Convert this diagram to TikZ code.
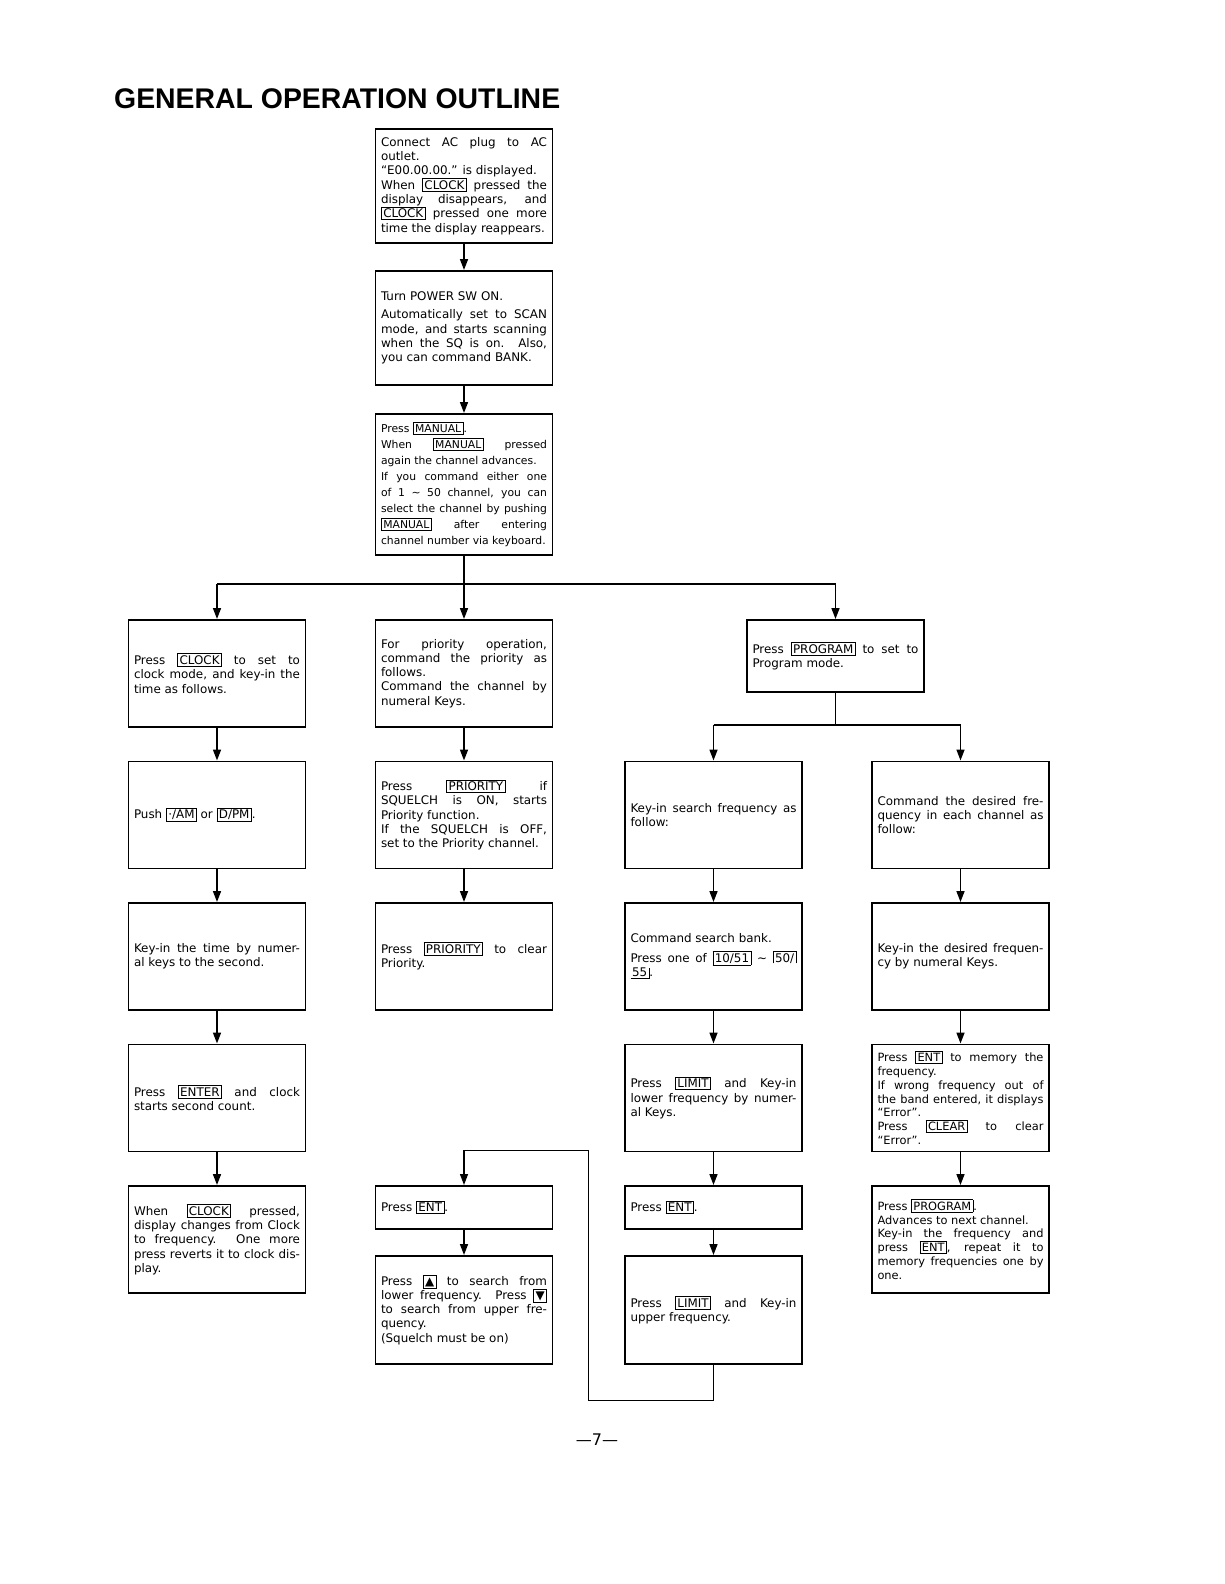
\documentclass[tikz,border=0pt]{standalone}
\usepackage{fontspec}
\setmainfont{DejaVu Sans}
\newfontfamily\titlefont{Liberation Sans}
\usetikzlibrary{positioning,arrows.meta}

\setlength{\fboxsep}{1.5pt}
\setlength{\fboxrule}{0.8pt}
% key on the front panel
\newcommand{\keycap}[1]{\fbox{#1}}
% key label broken over two lines
\newcommand{\keyhead}[1]{\hbox{\vrule width\fboxrule\vbox{\hrule height\fboxrule\kern\fboxsep\hbox{\kern\fboxsep#1\kern\fboxsep}}\vrule width\fboxrule}}
\newcommand{\keytail}[1]{\hbox{\vtop{\hbox{\kern\fboxsep#1\kern\fboxsep}\kern\fboxsep\hrule height\fboxrule}\vrule width\fboxrule}}
\newcommand{\bodysize}{\fontsize{11.9}{14.3}\selectfont\tolerance=10000\hyphenpenalty=10000}
\newcommand{\smallsize}{\fontsize{11.4}{13.8}\selectfont\tolerance=10000\hyphenpenalty=10000}
\newcommand{\manualsize}{\fontsize{10.8}{16}\selectfont\tolerance=10000\hyphenpenalty=10000}

\begin{document}
\begin{tikzpicture}[
    x=1pt, y=1pt,
    box/.style={
        rectangle,
        draw=black,
        line width=1.8pt,
        align=justify,
        text width=166pt,
        inner xsep=5.5pt,
        inner ysep=4pt,
        minimum height=107pt,
        font=\bodysize
    },
    arrow/.style={-{Triangle[length=11pt,width=8pt]}, line width=1.6pt},
    wire/.style={line width=1.6pt}
]
\useasboundingbox (0,0) rectangle (1224,-1584);

\node[anchor=base west, inner sep=0pt, font=\titlefont\bfseries\fontsize{28.4}{34}\selectfont] (title) at (114,-109) {GENERAL OPERATION OUTLINE};

% main column
\node[box, anchor=north, minimum height=114pt] (plug) at (464,-128) {Connect AC plug to AC\linebreak outlet.\\
``E00.00.00.'' is displayed.\\
When \keycap{CLOCK} pressed the\linebreak display disappears, and\linebreak \keycap{CLOCK} pressed one more\linebreak time the display reappears.};
\node[box, below=26.2pt of plug, minimum height=114pt] (power) {Turn POWER SW ON.\\[4pt]
Automatically set to SCAN\linebreak mode, and starts scanning\linebreak when the SQ is on. Also,\linebreak you can command BANK.};
\node[box, below=27.2pt of power, minimum height=141pt, font=\manualsize] (manual) {Press \keycap{MANUAL}.\\
When \keycap{MANUAL} pressed\linebreak again the channel advances.\\
If you command either one\linebreak of 1 ∼ 50 channel, you can\linebreak select the channel by pushing\linebreak \keycap{MANUAL} after entering\linebreak channel number via keyboard.};

\coordinate (bus) at (464,-583.7);

% first row
\node[box, anchor=north] (clockset) at (217,-619) {Press \keycap{CLOCK} to set to\linebreak clock mode, and key-in the\linebreak time as follows.};
\node[box, anchor=north] (prio) at (464,-619) {For priority operation,\linebreak command the priority as\linebreak follows.\\
Command the channel by\linebreak numeral Keys.};
\node[box, anchor=north, minimum height=72pt] (program) at (835.5,-619) {Press \keycap{PROGRAM} to set to\linebreak Program mode.};

\coordinate (progbus) at (835.5,-725);

% clock column
\node[box, below=32.7pt of clockset] (ampm) {Push \keycap{·/AM} or \keycap{D/PM}.};
\node[box, below=32.7pt of ampm] (timein) {Key-in the time by numer-\linebreak al keys to the second.};
\node[box, below=32.7pt of timein] (enter) {Press \keycap{ENTER} and clock\linebreak starts second count.};
\node[box, below=32.7pt of enter] (clockdisp) {When \keycap{CLOCK} pressed,\linebreak display changes from Clock\linebreak to frequency. One more\linebreak press reverts it to clock dis-\linebreak play.};

% priority column
\node[box, below=32.7pt of prio] (prioon) {Press \keycap{PRIORITY} if\linebreak SQUELCH is ON, starts\linebreak Priority function.\\
If the SQUELCH is OFF,\linebreak set to the Priority channel.};
\node[box, below=32.7pt of prioon] (prioclr) {Press \keycap{PRIORITY} to clear\linebreak Priority.};
\node[box, anchor=north, minimum height=43pt] (entsearch) at (464,-1185) {Press \keycap{ENT}.};
\node[box, below=25.2pt of entsearch, minimum height=108pt] (updown) {Press \keycap{▲} to search from\linebreak lower frequency. Press \keycap{▼}\linebreak to search from upper fre-\linebreak quency.\\
(Squelch must be on)};

% search column
\node[box, anchor=north] (search) at (713.5,-760.5) {Key-in search frequency as\linebreak follow:};
\node[box, below=32.7pt of search] (bank) {Command search bank.\\[5pt]
Press one of \keycap{10/51} ∼ \keyhead{50/}\linebreak \keytail{55}.};
\node[box, below=32.7pt of bank] (lowlim) {Press \keycap{LIMIT} and Key-in\linebreak lower frequency by numer-\linebreak al Keys.};
\node[box, below=32.7pt of lowlim, minimum height=43pt] (entlow) {Press \keycap{ENT}.};
\node[box, below=25.2pt of entlow, minimum height=108pt] (uplim) {Press \keycap{LIMIT} and Key-in\linebreak upper frequency.};

% memory column
\node[box, anchor=north] (desired) at (960.5,-760.5) {Command the desired fre-\linebreak quency in each channel as\linebreak follow:};
\node[box, below=32.7pt of desired] (freqin) {Key-in the desired frequen-\linebreak cy by numeral Keys.};
\node[box, below=32.7pt of freqin, font=\smallsize] (memory) {Press \keycap{ENT} to memory the\linebreak frequency.\\
If wrong frequency out of\linebreak the band entered, it displays\linebreak ``Error''.\\
Press \keycap{CLEAR} to clear\linebreak ``Error''.};
\node[box, below=32.7pt of memory, font=\smallsize] (nextch) {Press \keycap{PROGRAM}.\\
Advances to next channel.\\
Key-in the frequency and\linebreak press \keycap{ENT}, repeat it to\linebreak memory frequencies one by\linebreak one.};

\coordinate (loopa) at (588.8,-1400.7);
\coordinate (loopb) at (588.8,-1150.3);

\node[font=\fontsize{16}{20}\selectfont] (pagenum) at (597,-1440) {---7---};

\draw[arrow] (plug) -- (power);
\draw[arrow] (power) -- (manual);
\draw[arrow] (manual) -- (prio);
\draw[wire] (clockset.north |- bus) -- (program.north |- bus);
\draw[arrow] (clockset.north |- bus) -- (clockset);
\draw[arrow] (program.north |- bus) -- (program);

\draw[arrow] (clockset) -- (ampm);
\draw[arrow] (ampm) -- (timein);
\draw[arrow] (timein) -- (enter);
\draw[arrow] (enter) -- (clockdisp);

\draw[arrow] (prio) -- (prioon);
\draw[arrow] (prioon) -- (prioclr);
\draw[arrow] (entsearch) -- (updown);

\draw[wire] (program) -- (progbus);
\draw[wire] (search.north |- progbus) -- (desired.north |- progbus);
\draw[arrow] (search.north |- progbus) -- (search);
\draw[arrow] (desired.north |- progbus) -- (desired);

\draw[arrow] (search) -- (bank);
\draw[arrow] (bank) -- (lowlim);
\draw[arrow] (lowlim) -- (entlow);
\draw[arrow] (entlow) -- (uplim);
\draw[arrow, line width=1.3pt] (uplim.south) |- (loopa) -- (loopb) -| (entsearch.north);

\draw[arrow] (desired) -- (freqin);
\draw[arrow] (freqin) -- (memory);
\draw[arrow] (memory) -- (nextch);
\end{tikzpicture}
\end{document}
